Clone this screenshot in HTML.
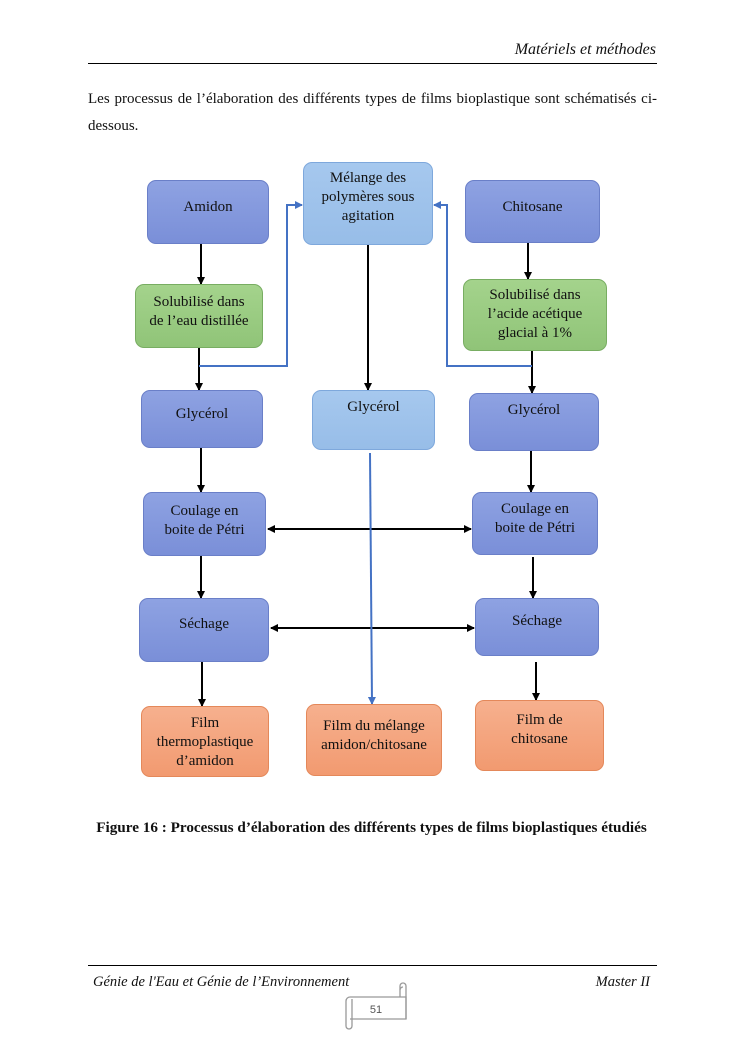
<!DOCTYPE html>
<html><head><meta charset="utf-8"><style>
body{margin:0;width:745px;height:1053px;background:#fff;font-family:"Liberation Serif",serif;color:#111;position:relative;overflow:hidden}
.a{position:absolute}
.b{position:absolute;box-sizing:border-box;border-radius:9px;text-align:center;font-size:15px;line-height:19px;padding-top:6px;color:#111}
.p{background:linear-gradient(#8ea2e2,#7a8fd8);border:1px solid #6a7fc8}
.l{background:linear-gradient(#a6c8ee,#97bde8);border:1px solid #7ea8dc}
.g{background:linear-gradient(#a4d38c,#90c478);border:1px solid #78ad62}
.o{background:linear-gradient(#f6b08e,#f29a70);border:1px solid #e4885a}
</style></head><body>
<div class="a" style="right:89px;top:41px;font-style:italic;font-size:16px">Matériels et méthodes</div>
<div class="a" style="left:88px;top:63px;width:569px;height:1px;background:#000"></div>
<div class="a" style="left:88px;top:86px;width:569px;font-size:15px;line-height:27px;text-align:justify;text-align-last:justify">Les processus de l’élaboration des différents types de films bioplastique sont schématisés ci-</div>
<div class="a" style="left:88px;top:113px;font-size:15px;line-height:27px">dessous.</div>

<svg class="a" style="left:0;top:0" width="745" height="1053">
<defs>
<marker id="k" markerWidth="8" markerHeight="8" refX="7" refY="4" orient="auto" markerUnits="userSpaceOnUse"><path d="M0,0L8,4L0,8z" fill="#000"/></marker>
<marker id="u" markerWidth="8" markerHeight="8" refX="7" refY="4" orient="auto" markerUnits="userSpaceOnUse"><path d="M0,0L8,4L0,8z" fill="#4472c4"/></marker>
<marker id="ks" markerWidth="8" markerHeight="8" refX="1" refY="4" orient="auto" markerUnits="userSpaceOnUse"><path d="M8,0L0,4L8,8z" fill="#000"/></marker>
</defs>
<g stroke="#000" stroke-width="2" fill="none" marker-end="url(#k)">
<path d="M201 244V284"/><path d="M199 348V390"/><path d="M201 448V492"/><path d="M201 556V598"/><path d="M202 662V706"/>
<path d="M368 245V390"/>
<path d="M528 243V279"/><path d="M532 351V393"/><path d="M531 451V492"/><path d="M533 557V598"/><path d="M536 662V700"/>
<path d="M268 529H471" marker-start="url(#ks)"/><path d="M271 628H474" marker-start="url(#ks)"/>
</g>
<g stroke="#4472c4" stroke-width="2" fill="none" marker-end="url(#u)">
<path d="M199 366H287V205H302"/><path d="M532 366H447V205H434"/><path d="M370 453L372 704"/>
</g>
</svg>

<div class="b p" style="left:147px;top:180px;width:122px;height:64px;padding-top:17px">Amidon</div>
<div class="b l" style="left:303px;top:162px;width:130px;height:83px">Mélange des<br>polymères sous<br>agitation</div>
<div class="b p" style="left:465px;top:180px;width:135px;height:63px;padding-top:17px">Chitosane</div>
<div class="b g" style="left:135px;top:284px;width:128px;height:64px;padding-top:8px">Solubilisé dans<br>de l’eau distillée</div>
<div class="b g" style="left:463px;top:279px;width:144px;height:72px">Solubilisé dans<br>l’acide acétique<br>glacial à 1%</div>
<div class="b p" style="left:141px;top:390px;width:122px;height:58px;padding-top:14px">Glycérol</div>
<div class="b l" style="left:312px;top:390px;width:123px;height:60px;padding-top:7px">Glycérol</div>
<div class="b p" style="left:469px;top:393px;width:130px;height:58px;padding-top:7px">Glycérol</div>
<div class="b p" style="left:143px;top:492px;width:123px;height:64px;padding-top:9px">Coulage en<br>boite de Pétri</div>
<div class="b p" style="left:472px;top:492px;width:126px;height:63px;padding-top:7px">Coulage en<br>boite de Pétri</div>
<div class="b p" style="left:139px;top:598px;width:130px;height:64px;padding-top:16px">Séchage</div>
<div class="b p" style="left:475px;top:598px;width:124px;height:58px;padding-top:13px">Séchage</div>
<div class="b o" style="left:141px;top:706px;width:128px;height:71px;padding-top:7px">Film<br>thermoplastique<br>d’amidon</div>
<div class="b o" style="left:306px;top:704px;width:136px;height:72px;padding-top:12px">Film du mélange<br>amidon/chitosane</div>
<div class="b o" style="left:475px;top:700px;width:129px;height:71px;padding-top:10px">Film de<br>chitosane</div>

<div class="a" style="left:0;width:743px;top:819px;text-align:center;font-weight:bold;font-size:15.2px">Figure 16 : Processus d’élaboration des différents types de films bioplastiques étudiés</div>

<div class="a" style="left:88px;top:965px;width:569px;height:1px;background:#000"></div>
<div class="a" style="left:93px;top:974px;font-style:italic;font-size:14.5px">Génie de l'Eau et Génie de l’Environnement</div>
<div class="a" style="right:95px;top:974px;font-style:italic;font-size:14.5px">Master II</div>
<svg class="a" style="left:340px;top:982px" width="70" height="48">
<g fill="none" stroke="#999" stroke-width="1.3">
<path d="M10 15H66V37H10"/><path d="M10 15a4 4 0 0 0 -4 4V44a3 3 0 0 0 6 0V17"/><path d="M60 15V4a3 3 0 0 1 6 0V37"/><path d="M60 8a3 3 0 0 1 3 -3"/>
</g>
<text x="36" y="31" font-family="Liberation Sans, sans-serif" font-size="11" fill="#555" text-anchor="middle">51</text>
</svg>
</body></html>
